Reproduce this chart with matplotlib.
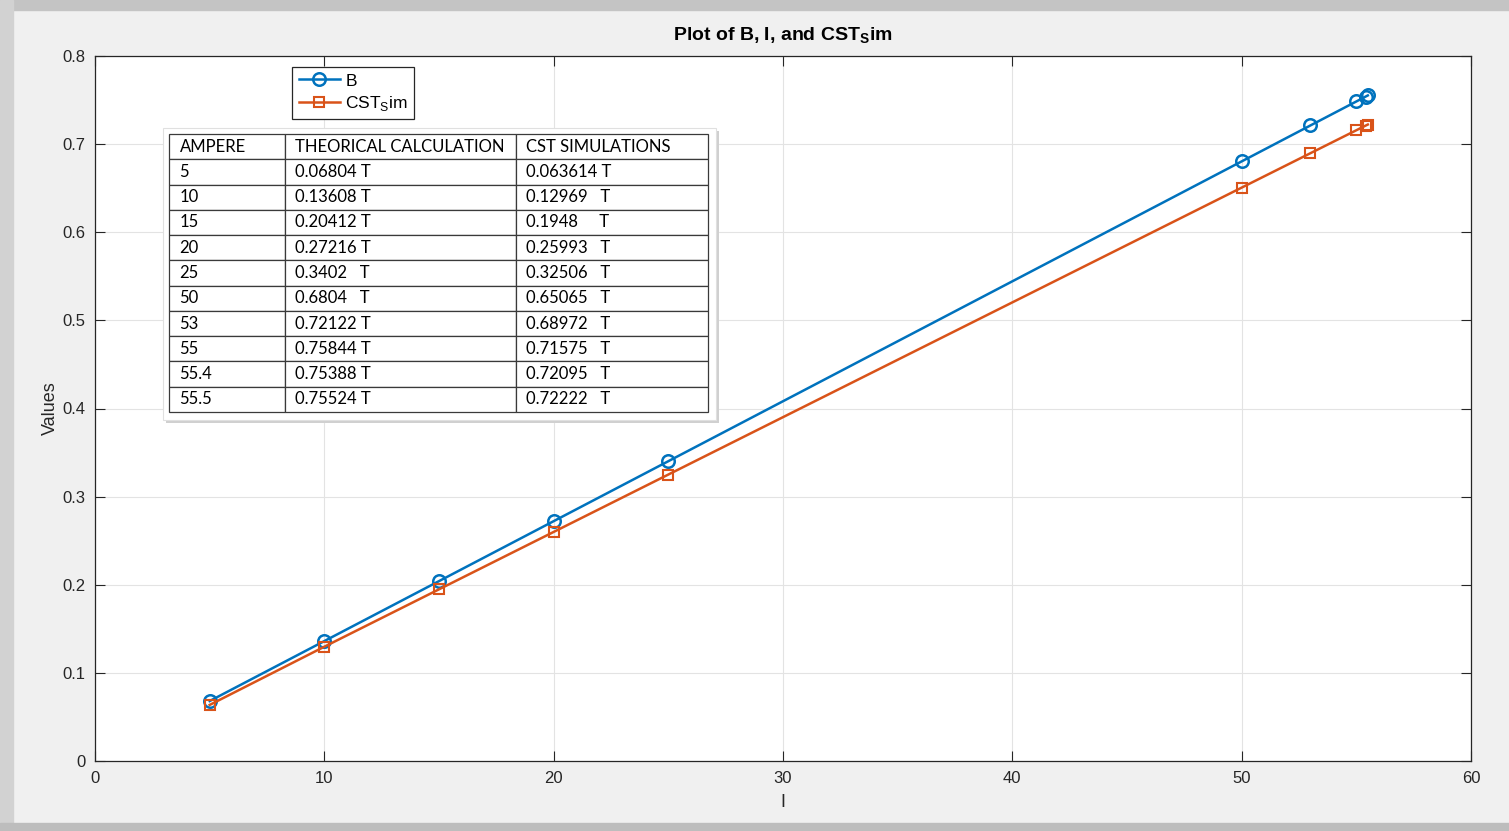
import numpy as np
import matplotlib.pyplot as plt
from matplotlib.patches import Rectangle

plt.rcParams['font.family'] = ['Liberation Sans', 'DejaVu Sans']
plt.rcParams['mathtext.fontset'] = 'custom'
plt.rcParams['mathtext.rm'] = 'Liberation Sans'
plt.rcParams['mathtext.bf'] = 'Liberation Sans:bold'

# data
current = np.array([5, 10, 15, 20, 25, 50, 53, 55, 55.4, 55.5])
b_theory = np.array([0.06804, 0.13608, 0.20412, 0.27216, 0.3402, 0.6804, 0.72122, 0.7484, 0.75388, 0.75524])
b_cst = np.array([0.063614, 0.12969, 0.1948, 0.25993, 0.32506, 0.65065, 0.68972, 0.71575, 0.72095, 0.72222])

# pasted table
table_header = ['AMPERE', 'THEORICAL CALCULATION', 'CST SIMULATIONS']
table_amp = ['5', '10', '15', '20', '25', '50', '53', '55', '55.4', '55.5']
table_theory = ['0.06804 T', '0.13608 T', '0.20412 T', '0.27216 T', '0.3402   T',
                '0.6804   T', '0.72122 T', '0.75844 T', '0.75388 T', '0.75524 T']
table_cst = ['0.063614 T', '0.12969   T', '0.1948     T', '0.25993   T', '0.32506   T',
             '0.65065   T', '0.68972   T', '0.71575   T', '0.72095   T', '0.72222   T']

blue = '#0072BD'
orange = '#D95319'
dark = '#262626'

fig = plt.figure(figsize=(15.09, 8.31), dpi=100, facecolor='#f0f0f0')
# screenshot border
fig.patches.append(Rectangle((0, 1 - 10/831), 1, 10/831, transform=fig.transFigure, color='#c4c4c4', zorder=0))
fig.patches.append(Rectangle((0, 0), 13/1509, 1, transform=fig.transFigure, color='#d2d2d2', zorder=0))
fig.patches.append(Rectangle((0, 0), 1, 8/831, transform=fig.transFigure, color='#bdbdbd', zorder=0))

ax = fig.add_axes([95/1509, 1 - 761/831, 1376/1509, 705/831])
ax.plot(current, b_theory, '-o', color=blue, lw=1.8, ms=9, mfc='none', mew=1.8, label='B')
ax.plot(current, b_cst, '-s', color=orange, lw=1.8, ms=7, mfc='none', mew=1.5, label=r'CST$_\mathrm{S}$im')

ax.set_xlim(0, 60)
ax.set_ylim(0, 0.8)
ax.set_xticks(np.arange(0, 61, 10))
ax.set_yticks(np.arange(0, 0.81, 0.1))
ax.set_yticklabels(['0', '0.1', '0.2', '0.3', '0.4', '0.5', '0.6', '0.7', '0.8'])
ax.tick_params(direction='in', top=True, right=True, length=7, labelsize=12, colors=dark, pad=7)
ax.grid(True, color='#e3e3e3', lw=0.8)
ax.set_axisbelow(True)
for s in ax.spines.values():
    s.set_color(dark)
    s.set_linewidth(0.9)

ax.set_xlabel('I', fontsize=13, color=dark, labelpad=6)
ax.set_ylabel('Values', fontsize=13, color=dark, labelpad=2)
ax.set_title(r'Plot of B, I, and CST$_\mathbf{S}$im', fontsize=14, fontweight='bold', color='black', pad=11)

leg = ax.legend(loc='upper left', bbox_to_anchor=(0.1435, 0.984), fontsize=12.5, fancybox=False,
                framealpha=1, edgecolor=dark, handlelength=2.4, borderpad=0.35, labelspacing=0.32,
                handletextpad=0.3, borderaxespad=0)
leg.get_frame().set_linewidth(0.9)

# white frame with soft shadow behind the table
ax.add_patch(Rectangle((0.0494 + 0.002, 0.4837 - 0.004), 0.4019, 0.4142, transform=ax.transAxes,
                       facecolor='#d0d0d0', edgecolor='none', zorder=4))
ax.add_patch(Rectangle((0.0494, 0.4837), 0.4019, 0.4142, transform=ax.transAxes,
                       facecolor='white', edgecolor='#e0e0e0', lw=0.8, zorder=5))

col_px = [116, 231, 192]
rows = [list(r) for r in zip(table_amp, table_theory, table_cst)]
tb = ax.table(cellText=rows, colLabels=table_header, cellLoc='left', colLoc='left',
              colWidths=col_px, bbox=[0.05378, 0.4950, 0.3917, 0.3943], zorder=6)
tb.auto_set_font_size(False)
for (r, c), cell in tb.get_celld().items():
    cell.set_edgecolor('#3a3a3a')
    cell.set_linewidth(0.9)
    cell.set_facecolor('white')
    cell.PAD = 10.5 / col_px[c]
    t = cell.get_text()
    t.set_fontsize(12)
    t.set_fontfamily(['Lato', 'DejaVu Sans'])
    t.set_color('black')

fig.savefig('out.png', dpi=100, facecolor=fig.get_facecolor())
